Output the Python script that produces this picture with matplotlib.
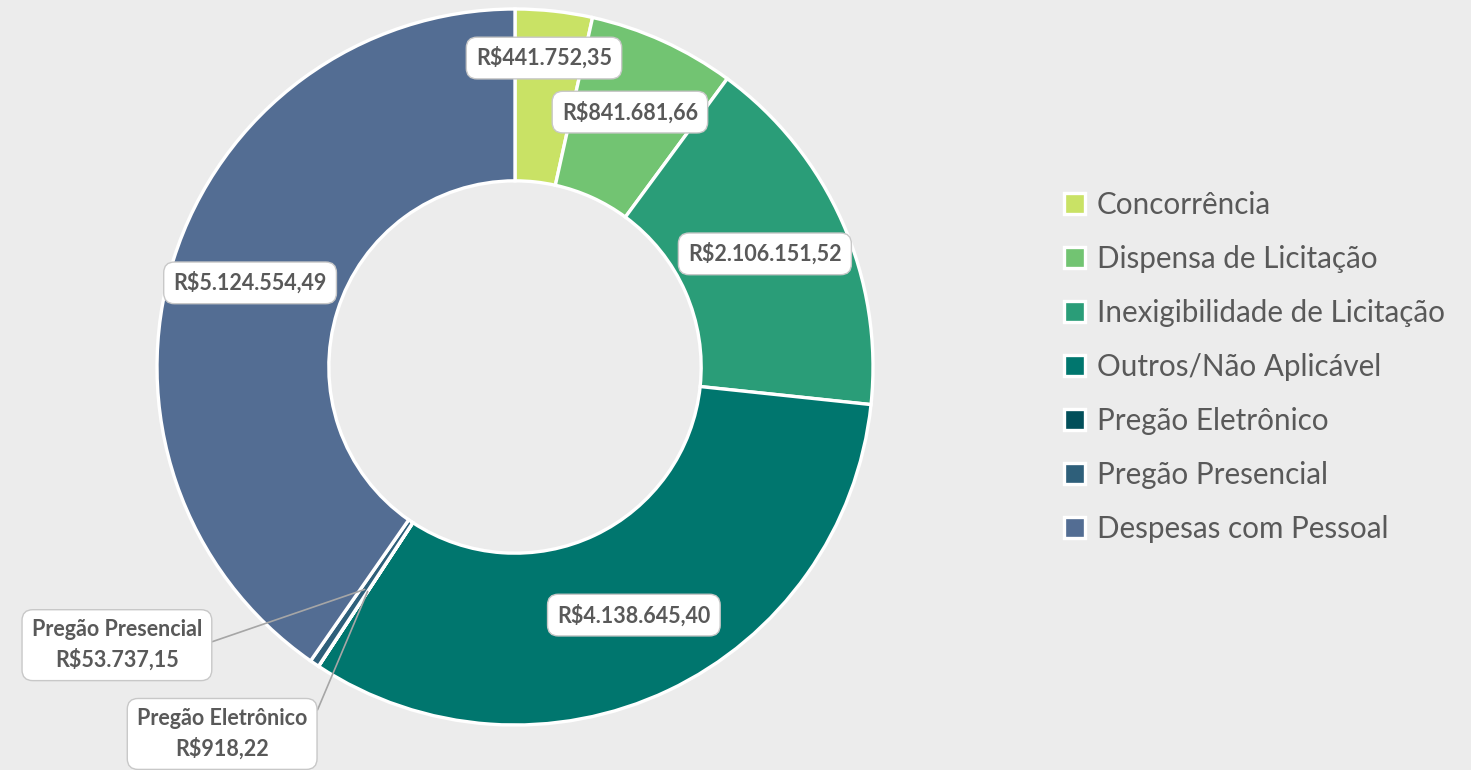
import matplotlib
matplotlib.use("Agg")
import matplotlib.pyplot as plt
import numpy as np

categories = ["Concorrência", "Dispensa de Licitação", "Inexigibilidade de Licitação",
              "Outros/Não Aplicável", "Pregão Eletrônico", "Pregão Presencial",
              "Despesas com Pessoal"]
values = [441752.35, 841681.66, 2106151.52, 4138645.40, 918.22, 53737.15, 5124554.49]
value_labels = ["R$441.752,35", "R$841.681,66", "R$2.106.151,52", "R$4.138.645,40",
                "R$918,22", "R$53.737,15", "R$5.124.554,49"]
colors = ["#c9e265", "#72c472", "#2a9d78", "#00766e", "#024f5a", "#2e5f7a", "#536d93"]

# label placements (data coords, radius 1 = outer edge)
label_pos = [(0.081, 0.863), (0.321, 0.712), (0.698, 0.316), (0.332, -0.693),
             (-0.818, -1.025), (-1.112, -0.777), (-0.740, 0.235)]
with_name = [False, False, False, False, True, True, False]

plt.rcParams['font.family'] = ['Lato', 'DejaVu Sans']
W, H = 1471, 770
fig = plt.figure(figsize=(W / 100, H / 100), dpi=100)
fig.patch.set_facecolor("#ececec")

cx, cy, R = 515, 367, 358
ax = fig.add_axes([(cx - R) / W, (H - cy - R) / H, 2 * R / W, 2 * R / H])
ax.set_facecolor("none")

wedges, _ = ax.pie(values, colors=colors, startangle=90, counterclock=False,
                   radius=1.0, wedgeprops=dict(width=0.48, edgecolor="white", linewidth=2.4))
ax.set_xlim(-1, 1)
ax.set_ylim(-1, 1)
ax.set_aspect("equal")
ax.axis("off")

text_color = "#595959"
box = dict(boxstyle="round,pad=0.45,rounding_size=0.5", fc="white", ec="#c8c8c8", lw=1.0)
for w, lab, pos, nm, cat in zip(wedges, value_labels, label_pos, with_name, categories):
    txt = f"{cat}\n{lab}" if nm else lab
    if nm:
        ang = np.deg2rad((w.theta1 + w.theta2) / 2)
        r = 0.75
        ax.annotate(txt, xy=(r * np.cos(ang), r * np.sin(ang)), xytext=pos,
                    ha="center", va="center", fontsize=15.5, fontweight="bold",
                    color=text_color, bbox=box, linespacing=1.45,
                    arrowprops=dict(arrowstyle="-", color="#a6a6a6", lw=1.2,
                                    relpos=(1.0, 0.5), shrinkA=0, shrinkB=0),
                    annotation_clip=False)
    else:
        ax.text(pos[0], pos[1], txt, ha="center", va="center", fontsize=15.5,
                fontweight="bold", color=text_color, bbox=box)

leg = fig.legend(wedges, categories, loc="center left",
                 bbox_to_anchor=(1064 / W, 1 - 367 / H), frameon=False,
                 fontsize=21.3, labelcolor=text_color, handlelength=0.7,
                 handleheight=0.7, handletextpad=0.4, labelspacing=0.88,
                 borderaxespad=0, borderpad=0)

fig.savefig("out.png", dpi=100, facecolor=fig.get_facecolor())
